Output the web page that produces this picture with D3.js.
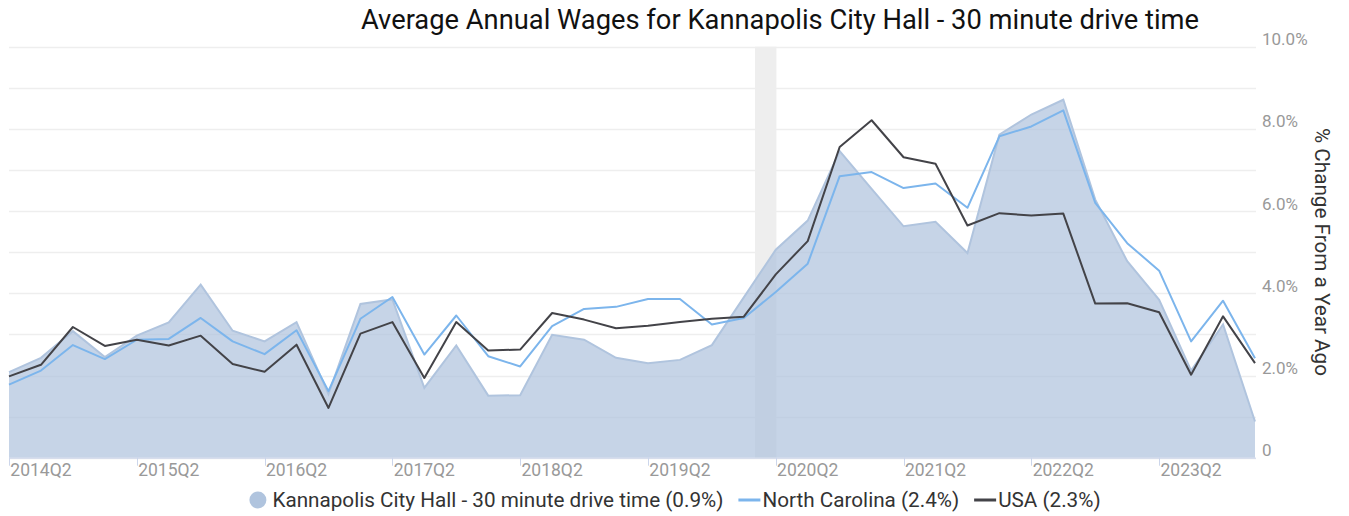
<!DOCTYPE html>
<html>
<head>
<meta charset="utf-8">
<script src="https://cdn.jsdelivr.net/npm/d3@7"></script>
<style>
  body { margin: 0; background: #fff; }
  svg { font-family: Roboto, "Noto Sans", sans-serif; display: block; }
</style>
</head>
<body>
<div id="chart"></div>
<script>
// quarters 2014Q1 .. 2023Q4
var quarters = [
  "2014Q1","2014Q2","2014Q3","2014Q4","2015Q1","2015Q2","2015Q3","2015Q4",
  "2016Q1","2016Q2","2016Q3","2016Q4","2017Q1","2017Q2","2017Q3","2017Q4",
  "2018Q1","2018Q2","2018Q3","2018Q4","2019Q1","2019Q2","2019Q3","2019Q4",
  "2020Q1","2020Q2","2020Q3","2020Q4","2021Q1","2021Q2","2021Q3","2021Q4",
  "2022Q1","2022Q2","2022Q3","2022Q4","2023Q1","2023Q2","2023Q3","2023Q4"
];

// % change from a year ago
var kannapolis = [
  2.08, 2.43, 3.08, 2.45, 2.97, 3.29, 4.21, 3.09, 2.83, 3.30,
  1.55, 3.74, 3.85, 1.70, 2.73, 1.51, 1.52, 2.99, 2.87, 2.43,
  2.30, 2.38, 2.74, 3.90, 5.06, 5.77, 7.46, 6.54, 5.63, 5.74,
  4.98, 7.86, 8.35, 8.71, 6.28, 4.78, 3.84, 2.12, 3.24, 0.88
];
var northCarolina = [
  1.78, 2.12, 2.74, 2.40, 2.87, 2.89, 3.40, 2.83, 2.52, 3.10,
  1.62, 3.38, 3.91, 2.51, 3.46, 2.47, 2.22, 3.20, 3.62, 3.67,
  3.86, 3.86, 3.24, 3.40, 4.03, 4.72, 6.85, 6.95, 6.56, 6.67,
  6.08, 7.82, 8.06, 8.45, 6.20, 5.22, 4.55, 2.83, 3.82, 2.42
];
var usa = [
  1.98, 2.26, 3.18, 2.72, 2.87, 2.73, 2.97, 2.28, 2.09, 2.75,
  1.21, 3.02, 3.30, 1.94, 3.30, 2.61, 2.63, 3.52, 3.36, 3.15,
  3.21, 3.30, 3.38, 3.43, 4.46, 5.27, 7.56, 8.21, 7.31, 7.15,
  5.65, 5.95, 5.89, 5.94, 3.75, 3.76, 3.54, 2.02, 3.44, 2.30
];

var gridValues = [0,1,2,3,4,5,6,7,8,9,10];
var yTickValues = [0,2,4,6,8,10];
var tickQuarters = ["2014Q1","2015Q1","2016Q1","2017Q1","2018Q1","2019Q1","2020Q1","2021Q1","2022Q1","2023Q1"];
var labelQuarters = ["2014Q2","2015Q2","2016Q2","2017Q2","2018Q2","2019Q2","2020Q2","2021Q2","2022Q2","2023Q2"];
// recession shading, in quarter index units
var recession = [23.35, 24.02];

var legendItems = [
  {name: "Kannapolis City Hall - 30 minute drive time (0.9%)", type: "circle", color: "#b0c4de"},
  {name: "North Carolina (2.4%)", type: "line", color: "#7cb5ec"},
  {name: "USA (2.3%)", type: "line", color: "#434348"}
];

var width = 1349, height = 516;
var plotLeft = 9, plotRight = 1255, plotTop = 46.7, plotBottom = 457.7;

var svg = d3.select("#chart").append("svg")
    .attr("width", width)
    .attr("height", height);

var x = d3.scaleLinear().domain([0, quarters.length - 1]).range([plotLeft, plotRight]);
var xq = function(q) { return x(quarters.indexOf(q)); };
var y = d3.scaleLinear().domain([0, 10]).range([plotBottom, plotTop]);

// gridlines
svg.append("g").selectAll("line")
    .data(gridValues)
    .enter().append("line")
    .attr("x1", plotLeft).attr("x2", plotRight + 1)
    .attr("y1", function(d) { return Math.round(y(d)) + 0.5; })
    .attr("y2", function(d) { return Math.round(y(d)) + 0.5; })
    .attr("stroke", "#eeeeee")
    .attr("stroke-width", 1.5);

// recession band
svg.append("rect")
    .attr("x", x(recession[0]))
    .attr("y", plotTop)
    .attr("width", x(recession[1]) - x(recession[0]))
    .attr("height", plotBottom - plotTop)
    .attr("fill", "#eeeeee");

// area
var area = d3.area()
    .x(function(d, i) { return x(i); })
    .y0(y(0))
    .y1(function(d) { return y(d); });

svg.append("path")
    .datum(kannapolis)
    .attr("d", area)
    .attr("fill", "#b0c4de")
    .attr("fill-opacity", 0.72);

var line = d3.line()
    .x(function(d, i) { return x(i); })
    .y(function(d) { return y(d); });

svg.append("path")
    .datum(kannapolis)
    .attr("d", line)
    .attr("fill", "none")
    .attr("stroke", "#b0c4de")
    .attr("stroke-width", 2);

svg.append("path")
    .datum(northCarolina)
    .attr("d", line)
    .attr("fill", "none")
    .attr("stroke", "#7cb5ec")
    .attr("stroke-width", 2)
    .attr("stroke-linejoin", "round");

svg.append("path")
    .datum(usa)
    .attr("d", line)
    .attr("fill", "none")
    .attr("stroke", "#434348")
    .attr("stroke-width", 2)
    .attr("stroke-linejoin", "round");

// x axis line and tick marks
svg.append("line")
    .attr("x1", plotLeft).attr("x2", plotRight + 1)
    .attr("y1", plotBottom + 0.5).attr("y2", plotBottom + 0.5)
    .attr("stroke", "#ccd6eb");

svg.append("g").selectAll("line")
    .data(tickQuarters)
    .enter().append("line")
    .attr("x1", function(d) { return Math.round(xq(d)) + 0.5; })
    .attr("x2", function(d) { return Math.round(xq(d)) + 0.5; })
    .attr("y1", plotBottom)
    .attr("y2", plotBottom + 8)
    .attr("stroke", "#ccd6eb");

svg.append("g").selectAll("text")
    .data(labelQuarters)
    .enter().append("text")
    .attr("x", function(d) { return xq(d); })
    .attr("y", 476)
    .attr("text-anchor", "middle")
    .attr("font-size", 17.5)
    .attr("fill", "#999999")
    .text(function(d) { return d; });

// y labels on the right
svg.append("g").selectAll("text")
    .data(yTickValues)
    .enter().append("text")
    .attr("x", 1262)
    .attr("y", function(d) { return y(d) - 1.5; })
    .attr("font-size", 17)
    .attr("fill", "#999999")
    .text(function(d) { return d === 0 ? "0" : d.toFixed(1) + "%"; });

// y title
svg.append("text")
    .attr("transform", "translate(1322,252) rotate(90)")
    .attr("text-anchor", "middle")
    .attr("dominant-baseline", "central")
    .attr("font-size", 20.7)
    .attr("fill", "#333333")
    .text("% Change From a Year Ago");

// title
svg.append("text")
    .attr("x", 780)
    .attr("y", 29)
    .attr("text-anchor", "middle")
    .attr("font-size", 27.3)
    .attr("fill", "#111111")
    .text("Average Annual Wages for Kannapolis City Hall - 30 minute drive time");

// legend
var legend = svg.append("g").attr("class", "legend");
var lx = 0;
legendItems.forEach(function(item, i) {
    var g = legend.append("g").attr("transform", "translate(" + lx + ",0)");
    if (item.type === "circle") {
        g.append("circle").attr("cx", 8.5).attr("cy", 0).attr("r", 8.5).attr("fill", item.color);
    } else {
        g.append("line").attr("x1", 0).attr("x2", 22).attr("y1", 0).attr("y2", 0)
            .attr("stroke", item.color).attr("stroke-width", 3);
    }
    var t = g.append("text")
        .attr("x", item.type === "circle" ? 23 : 24)
        .attr("y", 0)
        .attr("dominant-baseline", "central")
        .attr("font-size", 20.7)
        .attr("fill", "#333333")
        .text(item.name);
    lx += (item.type === "circle" ? 23 : 24) + t.node().getComputedTextLength() + 15;
});
var lw = lx - 15;
legend.attr("transform", "translate(" + (675 - lw / 2) + ",500)");
</script>
</body>
</html>
